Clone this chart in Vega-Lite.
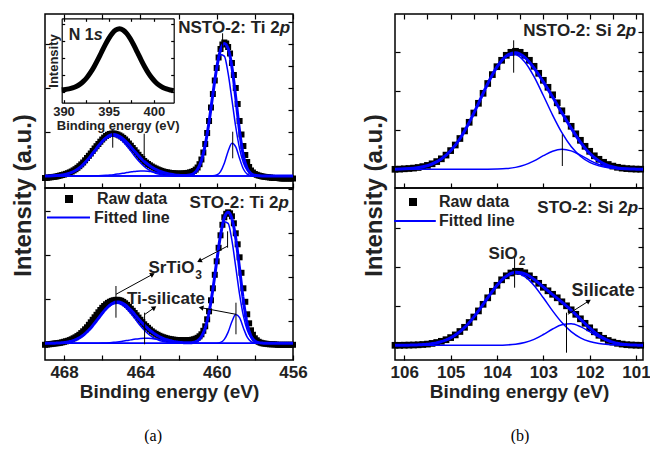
{
"$schema":"https://vega.github.io/schema/vega-lite/v6.json",
"background":"white",
"padding":{"left":10,"top":12,"right":0,"bottom":0},
"config":{
 "view":{"stroke":"black","strokeWidth":1.5},
 "font":"Liberation Sans",
 "axis":{"domain":false,"grid":false,"ticks":true,"tickSize":-5,"tickColor":"black","tickWidth":1.2,"labels":false,"labelFont":"Liberation Sans","labelFontSize":17,"labelFontWeight":"bold","labelColor":"#222222","titleFont":"Liberation Sans","titleFontWeight":"bold","titleColor":"#222222"},
 "text":{"font":"Liberation Sans","fontWeight":"bold","color":"#222222"}
},
"datasets":{
"aTopRaw":[{"x":469.0,"y":-2},{"x":468.9,"y":-1.8},{"x":468.8,"y":-1.5},{"x":468.7,"y":-1.3},{"x":468.6,"y":-1},{"x":468.5,"y":-0.8},{"x":468.4,"y":-0.5},{"x":468.3,"y":0},{"x":468.2,"y":0.5},{"x":468.1,"y":1},{"x":468.0,"y":1.5},{"x":467.9,"y":2.1},{"x":467.8,"y":2.8},{"x":467.7,"y":3.6},{"x":467.6,"y":4.5},{"x":467.5,"y":5.6},{"x":467.4,"y":6.8},{"x":467.3,"y":8.2},{"x":467.2,"y":9.8},{"x":467.1,"y":11.6},{"x":467.0,"y":13.5},{"x":466.9,"y":15.7},{"x":466.8,"y":18},{"x":466.7,"y":20.2},{"x":466.6,"y":22.5},{"x":466.5,"y":25},{"x":466.4,"y":27.5},{"x":466.3,"y":29.8},{"x":466.2,"y":32},{"x":466.1,"y":34.3},{"x":466.0,"y":36.5},{"x":465.9,"y":38.4},{"x":465.8,"y":40},{"x":465.7,"y":41.2},{"x":465.6,"y":42},{"x":465.5,"y":42.4},{"x":465.4,"y":42.5},{"x":465.3,"y":42.1},{"x":465.2,"y":41.5},{"x":465.1,"y":40.6},{"x":465.0,"y":39.5},{"x":464.9,"y":38.1},{"x":464.8,"y":36.5},{"x":464.7,"y":34.6},{"x":464.6,"y":32.5},{"x":464.5,"y":30.3},{"x":464.4,"y":28},{"x":464.3,"y":25.8},{"x":464.2,"y":23.5},{"x":464.1,"y":21.2},{"x":464.0,"y":19},{"x":463.9,"y":17},{"x":463.8,"y":15},{"x":463.7,"y":13.4},{"x":463.6,"y":12},{"x":463.5,"y":10.7},{"x":463.4,"y":9.5},{"x":463.3,"y":8.4},{"x":463.2,"y":7.5},{"x":463.1,"y":6.6},{"x":463.0,"y":5.8},{"x":462.9,"y":5.1},{"x":462.8,"y":4.5},{"x":462.7,"y":4},{"x":462.6,"y":3.6},{"x":462.5,"y":3.3},{"x":462.4,"y":3},{"x":462.3,"y":2.8},{"x":462.2,"y":2.6},{"x":462.1,"y":2.5},{"x":462.0,"y":2.4},{"x":461.9,"y":2.4},{"x":461.8,"y":2.5},{"x":461.7,"y":2.6},{"x":461.6,"y":2.8},{"x":461.5,"y":3.1},{"x":461.4,"y":3.6},{"x":461.3,"y":4.2},{"x":461.2,"y":5},{"x":461.1,"y":6.4},{"x":461.0,"y":8.5},{"x":460.9,"y":11.8},{"x":460.8,"y":16.5},{"x":460.7,"y":23.5},{"x":460.6,"y":32},{"x":460.5,"y":43},{"x":460.4,"y":55},{"x":460.3,"y":68.5},{"x":460.2,"y":82},{"x":460.1,"y":95.5},{"x":460.0,"y":108},{"x":459.9,"y":118.5},{"x":459.8,"y":127},{"x":459.7,"y":131.5},{"x":459.6,"y":133.5},{"x":459.5,"y":132.5},{"x":459.4,"y":129},{"x":459.3,"y":122.5},{"x":459.2,"y":113},{"x":459.1,"y":101},{"x":459.0,"y":88},{"x":458.9,"y":72},{"x":458.8,"y":55},{"x":458.7,"y":41.5},{"x":458.6,"y":30},{"x":458.5,"y":21},{"x":458.4,"y":14},{"x":458.3,"y":9},{"x":458.2,"y":5.5},{"x":458.1,"y":3.5},{"x":458.0,"y":2},{"x":457.9,"y":1.2},{"x":457.8,"y":0.5},{"x":457.7,"y":0},{"x":457.6,"y":-0.5},{"x":457.5,"y":-0.8},{"x":457.4,"y":-1},{"x":457.3,"y":-1.3},{"x":457.2,"y":-1.5},{"x":457.1,"y":-1.8},{"x":457.0,"y":-2},{"x":456.9,"y":-2},{"x":456.8,"y":-2},{"x":456.7,"y":-2.3},{"x":456.6,"y":-2.5},{"x":456.5,"y":-2.5},{"x":456.4,"y":-2.5},{"x":456.3,"y":-2.5},{"x":456.2,"y":-2.5},{"x":456.1,"y":-2.5},{"x":456.0,"y":-2.5}],
"aTopFit":[{"x":469.0,"A":0,"B":0,"C":0.05,"D":0,"E":0.05},{"x":468.8,"A":0,"B":0,"C":0.11,"D":0,"E":0.11},{"x":468.6,"A":0,"B":0,"C":0.22,"D":0,"E":0.22},{"x":468.4,"A":0,"B":0,"C":0.42,"D":0,"E":0.42},{"x":468.2,"A":0,"B":0,"C":0.76,"D":0,"E":0.76},{"x":468.0,"A":0,"B":0,"C":1.32,"D":0,"E":1.32},{"x":467.8,"A":0,"B":0,"C":2.2,"D":0,"E":2.2},{"x":467.6,"A":0,"B":0,"C":3.6,"D":0,"E":3.6},{"x":467.4,"A":0,"B":0,"C":5.5,"D":0,"E":5.5},{"x":467.2,"A":0,"B":0,"C":8.0,"D":0,"E":8.0},{"x":467.0,"A":0,"B":0,"C":11.4,"D":0.02,"E":11.4},{"x":466.8,"A":0,"B":0,"C":15.4,"D":0.04,"E":15.4},{"x":466.6,"A":0,"B":0,"C":20.0,"D":0.08,"E":20.1},{"x":466.4,"A":0,"B":0,"C":24.9,"D":0.14,"E":25.0},{"x":466.2,"A":0,"B":0,"C":29.8,"D":0.24,"E":30.0},{"x":466.0,"A":0,"B":0,"C":34.1,"D":0.4,"E":34.5},{"x":465.8,"A":0,"B":0,"C":37.5,"D":0.63,"E":38.1},{"x":465.6,"A":0,"B":0,"C":39.5,"D":0.95,"E":40.5},{"x":465.4,"A":0,"B":0,"C":40.0,"D":1.38,"E":41.4},{"x":465.2,"A":0,"B":0,"C":38.7,"D":1.9,"E":40.6},{"x":465.0,"A":0,"B":0,"C":36.0,"D":2.5,"E":38.5},{"x":464.8,"A":0,"B":0,"C":32.0,"D":3.1,"E":35.1},{"x":464.6,"A":0,"B":0,"C":27.4,"D":3.8,"E":31.2},{"x":464.4,"A":0,"B":0,"C":22.4,"D":4.3,"E":26.7},{"x":464.2,"A":0,"B":0,"C":17.6,"D":4.75,"E":22.4},{"x":464.0,"A":0,"B":0,"C":13.3,"D":5.0,"E":18.3},{"x":463.8,"A":0,"B":0,"C":9.6,"D":5.0,"E":14.6},{"x":463.6,"A":0,"B":0,"C":6.7,"D":4.75,"E":11.5},{"x":463.4,"A":0,"B":0,"C":4.4,"D":4.3,"E":8.7},{"x":463.2,"A":0,"B":0,"C":2.8,"D":3.8,"E":6.6},{"x":463.0,"A":0,"B":0,"C":1.7,"D":3.1,"E":4.8},{"x":462.8,"A":0,"B":0,"C":1.0,"D":2.5,"E":3.5},{"x":462.6,"A":0,"B":0,"C":0.57,"D":1.9,"E":2.5},{"x":462.4,"A":0,"B":0,"C":0.3,"D":1.38,"E":1.7},{"x":462.2,"A":0,"B":0,"C":0.16,"D":0.95,"E":1.1},{"x":462.0,"A":0.01,"B":0,"C":0.08,"D":0.63,"E":0.7},{"x":461.8,"A":0.06,"B":0,"C":0,"D":0.4,"E":0.5},{"x":461.6,"A":0.23,"B":0,"C":0,"D":0.24,"E":0.5},{"x":461.4,"A":0.82,"B":0,"C":0,"D":0.14,"E":1.0},{"x":461.2,"A":2.5,"B":0,"C":0,"D":0.08,"E":2.6},{"x":461.0,"A":6.7,"B":0,"C":0,"D":0.04,"E":6.7},{"x":460.8,"A":15.5,"B":0,"C":0,"D":0.02,"E":15.5},{"x":460.6,"A":31.1,"B":0,"C":0,"D":0,"E":31.1},{"x":460.4,"A":54.1,"B":0.02,"C":0,"D":0,"E":54.1},{"x":460.2,"A":81.7,"B":0.16,"C":0,"D":0,"E":81.9},{"x":460.0,"A":107.0,"B":1.0,"C":0,"D":0,"E":108.0},{"x":459.8,"A":121.6,"B":4.4,"C":0,"D":0,"E":126.0},{"x":459.6,"A":119.9,"B":12.7,"C":0,"D":0,"E":132.6},{"x":459.4,"A":102.6,"B":24.8,"C":0,"D":0,"E":127.4},{"x":459.2,"A":76.1,"B":32.7,"C":0,"D":0,"E":108.8},{"x":459.0,"A":49.0,"B":29.1,"C":0,"D":0,"E":78.1},{"x":458.8,"A":27.4,"B":17.4,"C":0,"D":0,"E":44.8},{"x":458.6,"A":13.3,"B":7.0,"C":0,"D":0,"E":20.3},{"x":458.4,"A":5.6,"B":1.9,"C":0,"D":0,"E":7.5},{"x":458.2,"A":2.0,"B":0.35,"C":0,"D":0,"E":2.4},{"x":458.0,"A":0.65,"B":0.04,"C":0,"D":0,"E":0.7},{"x":457.8,"A":0.18,"B":0,"C":0,"D":0,"E":0.18},{"x":457.6,"A":0.04,"B":0,"C":0,"D":0,"E":0.04},{"x":457.4,"A":0,"B":0,"C":0,"D":0,"E":0},{"x":457.0,"A":0,"B":0,"C":0,"D":0,"E":0},{"x":456.5,"A":0,"B":0,"C":0,"D":0,"E":0},{"x":456.0,"A":0,"B":0,"C":0,"D":0,"E":0}],
"aBotRaw":[{"x":469.0,"y":-1.5},{"x":468.9,"y":-1.2},{"x":468.8,"y":-1},{"x":468.7,"y":-0.8},{"x":468.6,"y":-0.5},{"x":468.5,"y":-0.2},{"x":468.4,"y":0},{"x":468.3,"y":0.2},{"x":468.2,"y":0.5},{"x":468.1,"y":1},{"x":468.0,"y":1.5},{"x":467.9,"y":2},{"x":467.8,"y":2.5},{"x":467.7,"y":3.2},{"x":467.6,"y":4},{"x":467.5,"y":5},{"x":467.4,"y":6},{"x":467.3,"y":7.2},{"x":467.2,"y":8.5},{"x":467.1,"y":10.2},{"x":467.0,"y":12},{"x":466.9,"y":14},{"x":466.8,"y":16},{"x":466.7,"y":18.5},{"x":466.6,"y":21},{"x":466.5,"y":23.5},{"x":466.4,"y":26},{"x":466.3,"y":28.5},{"x":466.2,"y":31},{"x":466.1,"y":33.3},{"x":466.0,"y":35.5},{"x":465.9,"y":37.3},{"x":465.8,"y":39},{"x":465.7,"y":40.4},{"x":465.6,"y":41.5},{"x":465.5,"y":42.4},{"x":465.4,"y":43},{"x":465.3,"y":43.4},{"x":465.2,"y":43.5},{"x":465.1,"y":43.1},{"x":465.0,"y":42.5},{"x":464.9,"y":41.4},{"x":464.8,"y":40},{"x":464.7,"y":38.4},{"x":464.6,"y":36.5},{"x":464.5,"y":34.6},{"x":464.4,"y":32.5},{"x":464.3,"y":30.3},{"x":464.2,"y":28},{"x":464.1,"y":25.7},{"x":464.0,"y":23.5},{"x":463.9,"y":21.2},{"x":463.8,"y":19},{"x":463.7,"y":17.2},{"x":463.6,"y":15.5},{"x":463.5,"y":13.7},{"x":463.4,"y":12},{"x":463.3,"y":10.7},{"x":463.2,"y":9.5},{"x":463.1,"y":8.5},{"x":463.0,"y":7.5},{"x":462.9,"y":6.7},{"x":462.8,"y":6},{"x":462.7,"y":5.4},{"x":462.6,"y":4.8},{"x":462.5,"y":4.4},{"x":462.4,"y":4},{"x":462.3,"y":3.7},{"x":462.2,"y":3.5},{"x":462.1,"y":3.3},{"x":462.0,"y":3.2},{"x":461.9,"y":3.1},{"x":461.8,"y":3},{"x":461.7,"y":3},{"x":461.6,"y":3},{"x":461.5,"y":3.1},{"x":461.4,"y":3.2},{"x":461.3,"y":3.5},{"x":461.2,"y":4},{"x":461.1,"y":4.6},{"x":461.0,"y":5.5},{"x":460.9,"y":7},{"x":460.8,"y":9},{"x":460.7,"y":12.5},{"x":460.6,"y":17},{"x":460.5,"y":24},{"x":460.4,"y":32},{"x":460.3,"y":43},{"x":460.2,"y":55},{"x":460.1,"y":68.5},{"x":460.0,"y":82},{"x":459.9,"y":95.5},{"x":459.8,"y":108},{"x":459.7,"y":118.5},{"x":459.6,"y":126},{"x":459.5,"y":129.5},{"x":459.4,"y":131},{"x":459.3,"y":130},{"x":459.2,"y":127},{"x":459.1,"y":120},{"x":459.0,"y":110},{"x":458.9,"y":99},{"x":458.8,"y":86},{"x":458.7,"y":70.5},{"x":458.6,"y":55},{"x":458.5,"y":41.5},{"x":458.4,"y":29},{"x":458.3,"y":20},{"x":458.2,"y":13},{"x":458.1,"y":8.5},{"x":458.0,"y":5},{"x":457.9,"y":3},{"x":457.8,"y":1.5},{"x":457.7,"y":0.6},{"x":457.6,"y":0},{"x":457.5,"y":-0.3},{"x":457.4,"y":-0.5},{"x":457.3,"y":-0.8},{"x":457.2,"y":-1},{"x":457.1,"y":-1},{"x":457.0,"y":-1},{"x":456.9,"y":-1.2},{"x":456.8,"y":-1.5},{"x":456.7,"y":-1.5},{"x":456.6,"y":-1.5},{"x":456.5,"y":-1.5},{"x":456.4,"y":-1.5},{"x":456.3,"y":-1.5},{"x":456.2,"y":-1.5},{"x":456.1,"y":-1.5},{"x":456.0,"y":-1.5}],
"aBotFit":[{"x":469.0,"A":0,"B":0,"C":0.03,"D":0,"E":0.03},{"x":468.8,"A":0,"B":0,"C":0.05,"D":0,"E":0.05},{"x":468.6,"A":0,"B":0,"C":0.11,"D":0,"E":0.11},{"x":468.4,"A":0,"B":0,"C":0.22,"D":0,"E":0.22},{"x":468.2,"A":0,"B":0,"C":0.42,"D":0,"E":0.42},{"x":468.0,"A":0,"B":0,"C":0.76,"D":0,"E":0.76},{"x":467.8,"A":0,"B":0,"C":1.32,"D":0,"E":1.32},{"x":467.6,"A":0,"B":0,"C":2.2,"D":0,"E":2.2},{"x":467.4,"A":0,"B":0,"C":3.6,"D":0,"E":3.6},{"x":467.2,"A":0,"B":0,"C":5.5,"D":0,"E":5.5},{"x":467.0,"A":0,"B":0,"C":8.0,"D":0,"E":8.0},{"x":466.8,"A":0,"B":0,"C":11.4,"D":0.02,"E":11.4},{"x":466.6,"A":0,"B":0,"C":15.4,"D":0.04,"E":15.4},{"x":466.4,"A":0,"B":0,"C":20.0,"D":0.08,"E":20.1},{"x":466.2,"A":0,"B":0,"C":24.9,"D":0.14,"E":25.0},{"x":466.0,"A":0,"B":0,"C":29.8,"D":0.24,"E":30.0},{"x":465.8,"A":0,"B":0,"C":34.1,"D":0.4,"E":34.5},{"x":465.6,"A":0,"B":0,"C":37.5,"D":0.63,"E":38.1},{"x":465.4,"A":0,"B":0,"C":39.5,"D":0.95,"E":40.5},{"x":465.2,"A":0,"B":0,"C":40.0,"D":1.38,"E":41.4},{"x":465.0,"A":0,"B":0,"C":38.7,"D":1.9,"E":40.6},{"x":464.8,"A":0,"B":0,"C":36.0,"D":2.5,"E":38.5},{"x":464.6,"A":0,"B":0,"C":32.0,"D":3.1,"E":35.1},{"x":464.4,"A":0,"B":0,"C":27.4,"D":3.8,"E":31.2},{"x":464.2,"A":0,"B":0,"C":22.4,"D":4.3,"E":26.7},{"x":464.0,"A":0,"B":0,"C":17.6,"D":4.75,"E":22.4},{"x":463.8,"A":0,"B":0,"C":13.3,"D":5.0,"E":18.3},{"x":463.6,"A":0,"B":0,"C":9.6,"D":5.0,"E":14.6},{"x":463.4,"A":0,"B":0,"C":6.7,"D":4.75,"E":11.5},{"x":463.2,"A":0,"B":0,"C":4.4,"D":4.3,"E":8.7},{"x":463.0,"A":0,"B":0,"C":2.8,"D":3.8,"E":6.6},{"x":462.8,"A":0,"B":0,"C":1.7,"D":3.1,"E":4.8},{"x":462.6,"A":0,"B":0,"C":1.0,"D":2.5,"E":3.5},{"x":462.4,"A":0,"B":0,"C":0.57,"D":1.9,"E":2.5},{"x":462.2,"A":0,"B":0,"C":0.3,"D":1.38,"E":1.7},{"x":462.0,"A":0,"B":0,"C":0.16,"D":0.95,"E":1.1},{"x":461.8,"A":0.01,"B":0,"C":0.08,"D":0.63,"E":0.7},{"x":461.6,"A":0.06,"B":0,"C":0,"D":0.4,"E":0.5},{"x":461.4,"A":0.23,"B":0,"C":0,"D":0.24,"E":0.5},{"x":461.2,"A":0.82,"B":0,"C":0,"D":0.14,"E":1.0},{"x":461.0,"A":2.5,"B":0,"C":0,"D":0.08,"E":2.6},{"x":460.8,"A":6.7,"B":0,"C":0,"D":0.04,"E":6.7},{"x":460.6,"A":15.5,"B":0,"C":0,"D":0.02,"E":15.5},{"x":460.4,"A":31.1,"B":0,"C":0,"D":0,"E":31.1},{"x":460.2,"A":54.1,"B":0.02,"C":0,"D":0,"E":54.1},{"x":460.0,"A":81.7,"B":0.14,"C":0,"D":0,"E":81.8},{"x":459.8,"A":107.0,"B":0.9,"C":0,"D":0,"E":107.9},{"x":459.6,"A":121.6,"B":3.9,"C":0,"D":0,"E":125.5},{"x":459.4,"A":119.9,"B":11.2,"C":0,"D":0,"E":131.1},{"x":459.2,"A":102.6,"B":21.8,"C":0,"D":0,"E":124.4},{"x":459.0,"A":76.1,"B":28.8,"C":0,"D":0,"E":104.9},{"x":458.8,"A":49.0,"B":25.6,"C":0,"D":0,"E":74.6},{"x":458.6,"A":27.4,"B":15.3,"C":0,"D":0,"E":42.7},{"x":458.4,"A":13.3,"B":6.2,"C":0,"D":0,"E":19.5},{"x":458.2,"A":5.6,"B":1.7,"C":0,"D":0,"E":7.3},{"x":458.0,"A":2.0,"B":0.3,"C":0,"D":0,"E":2.3},{"x":457.8,"A":0.65,"B":0.04,"C":0,"D":0,"E":0.7},{"x":457.6,"A":0.18,"B":0,"C":0,"D":0,"E":0.18},{"x":457.4,"A":0.04,"B":0,"C":0,"D":0,"E":0.04},{"x":457.2,"A":0,"B":0,"C":0,"D":0,"E":0},{"x":456.8,"A":0,"B":0,"C":0,"D":0,"E":0},{"x":456.4,"A":0,"B":0,"C":0,"D":0,"E":0},{"x":456.0,"A":0,"B":0,"C":0,"D":0,"E":0}],
"bTopRaw":[{"x":106.2,"y":0},{"x":106.1,"y":0.2},{"x":106.0,"y":0.5},{"x":105.9,"y":0.8},{"x":105.8,"y":1.2},{"x":105.7,"y":1.8},{"x":105.6,"y":2.7},{"x":105.5,"y":3.9},{"x":105.4,"y":5.5},{"x":105.3,"y":7.7},{"x":105.2,"y":10.5},{"x":105.1,"y":14.2},{"x":105.0,"y":18.7},{"x":104.9,"y":24.3},{"x":104.8,"y":30.8},{"x":104.7,"y":38.4},{"x":104.6,"y":47},{"x":104.5,"y":56.3},{"x":104.4,"y":66},{"x":104.3,"y":76},{"x":104.2,"y":85.8},{"x":104.1,"y":94.7},{"x":104.0,"y":102.6},{"x":103.9,"y":109},{"x":103.8,"y":114},{"x":103.7,"y":117},{"x":103.6,"y":118},{"x":103.5,"y":117},{"x":103.4,"y":114},{"x":103.3,"y":109},{"x":103.2,"y":103},{"x":103.1,"y":96},{"x":103.0,"y":89},{"x":102.9,"y":82},{"x":102.8,"y":74.5},{"x":102.7,"y":66.5},{"x":102.6,"y":58.5},{"x":102.5,"y":50.5},{"x":102.4,"y":43},{"x":102.3,"y":35.5},{"x":102.2,"y":29},{"x":102.1,"y":23},{"x":102.0,"y":18},{"x":101.9,"y":13.5},{"x":101.8,"y":10},{"x":101.7,"y":7},{"x":101.6,"y":4.8},{"x":101.5,"y":3.2},{"x":101.4,"y":2},{"x":101.3,"y":1.2},{"x":101.2,"y":0.7},{"x":101.1,"y":0.4},{"x":101.0,"y":0.2},{"x":100.9,"y":0.1}],
"bTopFit":[{"x":106.2,"M":0.16,"S":0,"E":0.16},{"x":106.0,"M":0.44,"S":0,"E":0.44},{"x":105.8,"M":1.08,"S":0,"E":1.08},{"x":105.6,"M":2.5,"S":0,"E":2.5},{"x":105.4,"M":5.3,"S":0,"E":5.3},{"x":105.2,"M":10.3,"S":0,"E":10.3},{"x":105.0,"M":18.5,"S":0,"E":18.5},{"x":104.8,"M":30.6,"S":0,"E":30.6},{"x":104.6,"M":46.8,"S":0,"E":46.8},{"x":104.4,"M":65.8,"S":0.01,"E":65.8},{"x":104.2,"M":85.5,"S":0.05,"E":85.55},{"x":104.0,"M":102.2,"S":0.21,"E":102.4},{"x":103.8,"M":112.7,"S":0.7,"E":113.4},{"x":103.6,"M":114.6,"S":1.93,"E":116.5},{"x":103.4,"M":107.4,"S":4.45,"E":111.9},{"x":103.2,"M":92.7,"S":8.5,"E":101.2},{"x":103.0,"M":73.8,"S":13.6,"E":87.4},{"x":102.8,"M":54.2,"S":18.1,"E":72.3},{"x":102.6,"M":36.6,"S":20.0,"E":56.6},{"x":102.4,"M":22.8,"S":18.4,"E":41.2},{"x":102.2,"M":13.1,"S":14.1,"E":27.2},{"x":102.0,"M":6.9,"S":9.0,"E":15.9},{"x":101.8,"M":3.4,"S":4.8,"E":8.2},{"x":101.6,"M":1.5,"S":2.1,"E":3.6},{"x":101.4,"M":0.63,"S":0.78,"E":1.4},{"x":101.2,"M":0.24,"S":0.24,"E":0.48},{"x":101.0,"M":0.09,"S":0.06,"E":0.15},{"x":100.8,"M":0.03,"S":0.01,"E":0.04}],
"bBotRaw":[{"x":106.2,"y":0},{"x":106.1,"y":0},{"x":106.0,"y":0.1},{"x":105.9,"y":0.2},{"x":105.8,"y":0.3},{"x":105.7,"y":0.5},{"x":105.6,"y":0.8},{"x":105.5,"y":1.2},{"x":105.4,"y":1.9},{"x":105.3,"y":2.8},{"x":105.2,"y":4},{"x":105.1,"y":5.6},{"x":105.0,"y":7.7},{"x":104.9,"y":10.4},{"x":104.8,"y":13.8},{"x":104.7,"y":18},{"x":104.6,"y":22.8},{"x":104.5,"y":28.3},{"x":104.4,"y":34.4},{"x":104.3,"y":41},{"x":104.2,"y":47.5},{"x":104.1,"y":54},{"x":104.0,"y":60},{"x":103.9,"y":65.5},{"x":103.8,"y":69.5},{"x":103.7,"y":72.3},{"x":103.6,"y":74},{"x":103.5,"y":74},{"x":103.4,"y":72.5},{"x":103.3,"y":69.5},{"x":103.2,"y":66},{"x":103.1,"y":62},{"x":103.0,"y":58},{"x":102.9,"y":54.5},{"x":102.8,"y":51},{"x":102.7,"y":47.5},{"x":102.6,"y":43.5},{"x":102.5,"y":39.5},{"x":102.4,"y":35.5},{"x":102.3,"y":31},{"x":102.2,"y":26.5},{"x":102.1,"y":22},{"x":102.0,"y":17.5},{"x":101.9,"y":13.5},{"x":101.8,"y":10},{"x":101.7,"y":7},{"x":101.6,"y":4.8},{"x":101.5,"y":3.2},{"x":101.4,"y":2},{"x":101.3,"y":1.2},{"x":101.2,"y":0.6},{"x":101.1,"y":0.3},{"x":101.0,"y":0.1},{"x":100.9,"y":0}],
"bBotFit":[{"x":106.2,"M":0.03,"S":0,"E":0.03},{"x":106.0,"M":0.09,"S":0,"E":0.09},{"x":105.8,"M":0.27,"S":0,"E":0.27},{"x":105.6,"M":0.71,"S":0,"E":0.71},{"x":105.4,"M":1.7,"S":0,"E":1.7},{"x":105.2,"M":3.75,"S":0,"E":3.75},{"x":105.0,"M":7.5,"S":0,"E":7.5},{"x":104.8,"M":13.7,"S":0,"E":13.7},{"x":104.6,"M":22.7,"S":0,"E":22.7},{"x":104.4,"M":34.4,"S":0,"E":34.4},{"x":104.2,"M":47.5,"S":0.02,"E":47.5},{"x":104.0,"M":59.9,"S":0.09,"E":60.0},{"x":103.8,"M":68.8,"S":0.33,"E":69.1},{"x":103.6,"M":72.0,"S":1.04,"E":73.0},{"x":103.4,"M":68.8,"S":2.7,"E":71.5},{"x":103.2,"M":59.9,"S":5.95,"E":65.9},{"x":103.0,"M":47.5,"S":10.8,"E":58.3},{"x":102.8,"M":34.4,"S":16.3,"E":50.7},{"x":102.6,"M":22.7,"S":20.5,"E":43.2},{"x":102.4,"M":13.7,"S":21.5,"E":35.2},{"x":102.2,"M":7.5,"S":18.7,"E":26.2},{"x":102.0,"M":3.75,"S":13.6,"E":17.4},{"x":101.8,"M":1.7,"S":8.2,"E":9.9},{"x":101.6,"M":0.71,"S":4.1,"E":4.8},{"x":101.4,"M":0.27,"S":1.7,"E":2.0},{"x":101.2,"M":0.09,"S":0.6,"E":0.7},{"x":101.0,"M":0.03,"S":0.17,"E":0.2},{"x":100.8,"M":0.01,"S":0.04,"E":0.05}],
"inset":[{"x":389.8,"y":98.25},{"x":390.2,"y":98.57},{"x":390.6,"y":99.14},{"x":391.0,"y":100.07},{"x":391.4,"y":101.52},{"x":391.8,"y":103.63},{"x":392.2,"y":106.6},{"x":392.6,"y":110.55},{"x":393.0,"y":115.56},{"x":393.4,"y":121.58},{"x":393.8,"y":128.4},{"x":394.2,"y":135.67},{"x":394.6,"y":142.88},{"x":395.0,"y":149.42},{"x":395.4,"y":154.64},{"x":395.8,"y":158.02},{"x":396.2,"y":159.16},{"x":396.6,"y":157.94},{"x":397.0,"y":154.48},{"x":397.4,"y":149.18},{"x":397.8,"y":142.56},{"x":398.2,"y":135.27},{"x":398.6,"y":127.92},{"x":399.0,"y":121.02},{"x":399.4,"y":114.92},{"x":399.8,"y":109.83},{"x":400.2,"y":105.8},{"x":400.6,"y":102.75},{"x":401.0,"y":100.56},{"x":401.4,"y":99.03},{"x":401.8,"y":98.02},{"x":402.2,"y":97.37}],
"aTopMk":[{"x":465.45,"y":28.3,"y2":45.7},{"x":463.8,"y":15.7,"y2":42.3},{"x":459.69,"y":125,"y2":142.7},{"x":459.16,"y":17.7,"y2":44.3}],
"aBotMk":[{"x":465.28,"y":25.6,"y2":57.3},{"x":463.78,"y":-1,"y2":30.6},{"x":459.43,"y":95.6,"y2":112},{"x":458.99,"y":9,"y2":40.6}],
"bTopMk":[{"x":103.64,"y":96.6,"y2":129},{"x":102.59,"y":3.3,"y2":35}],
"bBotMk":[{"x":103.62,"y":57.6,"y2":89.3},{"x":102.5,"y":-7.4,"y2":32.6}],
"aBotArr":[{"id":1,"x":465.28,"y":49,"x2":463.36,"y2":69},{"id":2,"x":459.42,"y":97.3,"x2":460.91,"y2":82.3},{"id":3,"x":463.76,"y":29,"x2":463.27,"y2":35.6},{"id":4,"x":458.99,"y":29,"x2":460.82,"y2":35.6}],
"bBotArr":[{"id":1,"x":102.47,"y":31,"x2":102.02,"y2":44.3}],
"aTopT":[{"x":456.7,"y":143,"a":"NSTO-2: Ti 2","b":"p"}],
"aBotT":[{"x":456.76,"y":135.6,"a":"STO-2: Ti 2","b":"p"}],
"aBotC":[{"x":461.17,"y":70.3,"a":"SrTiO","b":"3"}],
"aBotP":[{"x":462.66,"y":39,"a":"Ti-silicate"}],
"bTopT":[{"x":101.22,"y":133.3,"a":"NSTO-2: Si 2","b":"p"}],
"bBotT":[{"x":101.18,"y":132.6,"a":"STO-2: Si 2","b":"p"}],
"bBotC":[{"x":103.55,"y":86,"a":"SiO","b":"2"}],
"bBotP":[{"x":101.71,"y":49.3,"a":"Silicate"}],
"insetT":[{"x":393.35,"y":148,"a":"N 1","b":"s"}]
},
"resolve":{"scale":{"color":"independent","strokeDash":"independent"},"legend":{"color":"independent","strokeDash":"independent"}},
"hconcat":[
{"vconcat":[
 {"width":248,"height":174,
  "layer":[
   {"layer":[
     {"layer":[
       {"data":{"name":"aTopRaw"},"mark":{"type":"square","size":36,"color":"black","opacity":1},
        "encoding":{"x":{"field":"x","type":"quantitative","scale":{"domain":[469,456],"nice":false,"zero":false},"axis":{"orient":"bottom","values":[468,466,464,462,460,458,456],"title":null}},
                    "y":{"field":"y","type":"quantitative","scale":{"domain":[-12,162],"nice":false,"zero":false},"axis":{"orient":"left","values":[0,22,44,66,88,110,132,154],"title":null}}}},
       {"data":{"name":"aTopFit"},"transform":[{"fold":["A","B","C","D"],"as":["k","y"]}],"mark":{"type":"line","color":"#0000ff","strokeWidth":1.5,"interpolate":"monotone","clip":true},
        "encoding":{"x":{"field":"x","type":"quantitative"},"y":{"field":"y","type":"quantitative"},"detail":{"field":"k","type":"nominal"}}},
       {"data":{"name":"aTopFit"},"transform":[{"fold":["E"],"as":["k","y"]}],"mark":{"type":"line","color":"#0000ff","strokeWidth":3,"interpolate":"monotone","clip":true},
        "encoding":{"x":{"field":"x","type":"quantitative"},"y":{"field":"y","type":"quantitative"}}},
       {"data":{"name":"aTopMk"},"mark":{"type":"rule","color":"black","strokeWidth":1},
        "encoding":{"x":{"field":"x","type":"quantitative"},"y":{"field":"y","type":"quantitative"},"y2":{"field":"y2"}}},
       {"data":{"name":"aTopT"},"mark":{"type":"text","align":"right","baseline":"alphabetic","fontSize":17},
        "encoding":{"x":{"field":"x","type":"quantitative"},"y":{"field":"y","type":"quantitative"},"text":{"field":"a"}}},
       {"data":{"name":"aTopT"},"mark":{"type":"text","align":"left","baseline":"alphabetic","fontSize":17,"fontStyle":"italic"},
        "encoding":{"x":{"field":"x","type":"quantitative"},"y":{"field":"y","type":"quantitative"},"text":{"field":"b"}}}
     ]},
     {"data":{"name":"aTopRaw"},"mark":{"type":"point","opacity":0},
      "encoding":{"x":{"field":"x","type":"quantitative","axis":{"orient":"top","values":[468,466,464,462,460,458,456],"title":null}},
                  "y":{"field":"y","type":"quantitative","axis":{"orient":"right","values":[0,22,44,66,88,110,132,154],"title":null}}}}
    ],"resolve":{"axis":{"x":"independent","y":"independent"}}},
   {"layer":[
     {"layer":[
       {"data":{"name":"inset"},"mark":{"type":"line","color":"black","strokeWidth":5,"interpolate":"monotone"},
        "encoding":{"x":{"field":"x","type":"quantitative","scale":{"domain":[389.8,402.2],"range":[16.7,128.7],"nice":false,"zero":false},
                         "axis":{"orient":"bottom","offset":-85.3,"values":[390,392.5,395,397.5,400],"domain":true,"domainColor":"black","domainWidth":1.2,"tickSize":-3,"labels":true,"labelExpr":"datum.value % 5 == 0 ? datum.label : ''","labelFontSize":13,"labelPadding":6,"labelFlush":false,"labelOverlap":false,"title":"Binding energy (eV)","titleFontSize":13,"titleY":26.6,"titleBaseline":"alphabetic"}},
                    "y":{"field":"y","type":"quantitative","scale":{"domain":[85.3,169.7],"range":[88.7,4.3],"nice":false,"zero":false},
                         "axis":{"orient":"left","offset":-16.7,"values":[96,113,130,147,164],"domain":true,"domainColor":"black","domainWidth":1.2,"tickSize":-3,"title":"Intensity","titleFontSize":13,"titleX":-8.7,"titleAlign":"center","titleBaseline":"middle","titleAngle":-90}}}},
       {"data":{"name":"insetT"},"mark":{"type":"text","align":"right","baseline":"alphabetic","fontSize":16},
        "encoding":{"x":{"field":"x","type":"quantitative"},"y":{"field":"y","type":"quantitative"},"text":{"field":"a"}}},
       {"data":{"name":"insetT"},"mark":{"type":"text","align":"left","baseline":"alphabetic","fontSize":16,"fontStyle":"italic"},
        "encoding":{"x":{"field":"x","type":"quantitative"},"y":{"field":"y","type":"quantitative"},"text":{"field":"b"}}}
     ]},
     {"data":{"name":"inset"},"mark":{"type":"point","opacity":0},
      "encoding":{"x":{"field":"x","type":"quantitative","axis":{"orient":"top","offset":-4.3,"values":[390,392.5,395,397.5,400],"domain":true,"domainColor":"black","domainWidth":1.2,"tickSize":-3,"title":null}},
                  "y":{"field":"y","type":"quantitative","axis":{"orient":"right","offset":-119.3,"values":[96,113,130,147,164],"domain":true,"domainColor":"black","domainWidth":1.2,"tickSize":-3,"title":null}}}}
    ],"resolve":{"axis":{"x":"independent","y":"independent"}}}
  ],
  "resolve":{"scale":{"x":"independent","y":"independent"}}
 },
 {"width":248,"height":172,
  "layer":[
   {"layer":[
     {"data":{"name":"aBotRaw"},"mark":{"type":"square","size":36,"opacity":1},
      "encoding":{"x":{"field":"x","type":"quantitative","scale":{"domain":[469,456],"nice":false,"zero":false},
                       "axis":{"orient":"bottom","values":[468,466,464,462,460,458,456],"labels":true,"labelExpr":"datum.value % 4 == 0 ? datum.label : ''","labelFlush":false,"labelOverlap":false,"labelPadding":9,"title":"Binding energy (eV)","titleFontSize":19,"titleY":37,"titleBaseline":"alphabetic"}},
                  "y":{"field":"y","type":"quantitative","scale":{"domain":[-16.7,155.3],"nice":false,"zero":false},
                       "axis":{"orient":"left","values":[0,22,44,66,88,110,132,154],"title":"Intensity (a.u.)","titleFontSize":24,"titleX":-22,"titleY":7,"titleAlign":"center","titleBaseline":"middle","titleAngle":-90}},
                  "color":{"datum":"Raw data","scale":{"range":["black"]},"legend":{"orient":"none","legendX":16,"legendY":3,"title":null,"symbolType":"square","symbolSize":64,"symbolFillColor":"black","symbolStrokeWidth":0,"labelFont":"Liberation Sans","labelFontSize":16,"labelFontWeight":"bold","labelColor":"#222222","labelOffset":20}}}},
     {"data":{"name":"aBotFit"},"transform":[{"fold":["A","B","C","D"],"as":["k","y"]}],"mark":{"type":"line","color":"#0000ff","strokeWidth":1.5,"interpolate":"monotone","clip":true},
      "encoding":{"x":{"field":"x","type":"quantitative"},"y":{"field":"y","type":"quantitative"},"detail":{"field":"k","type":"nominal"}}},
     {"data":{"name":"aBotFit"},"transform":[{"fold":["E"],"as":["k","y"]}],"mark":{"type":"line","color":"#0000ff","strokeWidth":3,"interpolate":"monotone","clip":true},
      "encoding":{"x":{"field":"x","type":"quantitative"},"y":{"field":"y","type":"quantitative"},
                  "strokeDash":{"datum":"Fitted line","scale":{"range":[[1,0]]},"legend":{"orient":"none","legendX":1,"legendY":7,"title":null,"symbolType":"stroke","symbolSize":1849,"symbolStrokeColor":"#0000ff","symbolStrokeWidth":2,"labelFont":"Liberation Sans","labelFontSize":16,"labelFontWeight":"bold","labelColor":"#222222","labelOffset":3}}}},
     {"data":{"name":"aBotMk"},"mark":{"type":"rule","color":"black","strokeWidth":1},
      "encoding":{"x":{"field":"x","type":"quantitative"},"y":{"field":"y","type":"quantitative"},"y2":{"field":"y2"}}},
     {"data":{"name":"aBotArr"},"mark":{"type":"rule","color":"black","strokeWidth":1},
      "encoding":{"x":{"field":"x","type":"quantitative"},"y":{"field":"y","type":"quantitative"},"x2":{"field":"x2"},"y2":{"field":"y2"}}},
     {"data":{"name":"aBotArr"},"transform":[{"filter":"datum.id == 1"}],"mark":{"type":"point","shape":"triangle-up","filled":true,"color":"black","size":30,"angle":61,"opacity":1},
      "encoding":{"x":{"field":"x2","type":"quantitative"},"y":{"field":"y2","type":"quantitative"}}},
     {"data":{"name":"aBotArr"},"transform":[{"filter":"datum.id == 2"}],"mark":{"type":"point","shape":"triangle-up","filled":true,"color":"black","size":30,"angle":242,"opacity":1},
      "encoding":{"x":{"field":"x2","type":"quantitative"},"y":{"field":"y2","type":"quantitative"}}},
     {"data":{"name":"aBotArr"},"transform":[{"filter":"datum.id == 3"}],"mark":{"type":"point","shape":"triangle-up","filled":true,"color":"black","size":30,"angle":55,"opacity":1},
      "encoding":{"x":{"field":"x2","type":"quantitative"},"y":{"field":"y2","type":"quantitative"}}},
     {"data":{"name":"aBotArr"},"transform":[{"filter":"datum.id == 4"}],"mark":{"type":"point","shape":"triangle-up","filled":true,"color":"black","size":30,"angle":281,"opacity":1},
      "encoding":{"x":{"field":"x2","type":"quantitative"},"y":{"field":"y2","type":"quantitative"}}},
     {"data":{"name":"aBotT"},"mark":{"type":"text","align":"right","baseline":"alphabetic","fontSize":17},
      "encoding":{"x":{"field":"x","type":"quantitative"},"y":{"field":"y","type":"quantitative"},"text":{"field":"a"}}},
     {"data":{"name":"aBotT"},"mark":{"type":"text","align":"left","baseline":"alphabetic","fontSize":17,"fontStyle":"italic"},
      "encoding":{"x":{"field":"x","type":"quantitative"},"y":{"field":"y","type":"quantitative"},"text":{"field":"b"}}},
     {"data":{"name":"aBotC"},"mark":{"type":"text","align":"right","baseline":"alphabetic","fontSize":17},
      "encoding":{"x":{"field":"x","type":"quantitative"},"y":{"field":"y","type":"quantitative"},"text":{"field":"a"}}},
     {"data":{"name":"aBotC"},"mark":{"type":"text","align":"left","baseline":"alphabetic","fontSize":12,"dx":1,"dy":6},
      "encoding":{"x":{"field":"x","type":"quantitative"},"y":{"field":"y","type":"quantitative"},"text":{"field":"b"}}},
     {"data":{"name":"aBotP"},"mark":{"type":"text","align":"center","baseline":"alphabetic","fontSize":17},
      "encoding":{"x":{"field":"x","type":"quantitative"},"y":{"field":"y","type":"quantitative"},"text":{"field":"a"}}}
    ]},
   {"data":{"name":"aBotRaw"},"mark":{"type":"point","opacity":0},
    "encoding":{"x":{"field":"x","type":"quantitative","axis":null},
                "y":{"field":"y","type":"quantitative","axis":{"orient":"right","values":[0,22,44,66,88,110,132,154],"title":null}}}}
  ],
  "resolve":{"axis":{"x":"independent","y":"independent"}}
 }
],
"spacing":0,"bounds":"flush",
"resolve":{"scale":{"color":"independent","strokeDash":"independent"},"legend":{"color":"independent","strokeDash":"independent"}},
"title":{"text":"(a)","orient":"bottom","anchor":"middle","font":"Liberation Serif","fontSize":16,"fontWeight":"normal","color":"black","offset":26,"dx":-6}
},
{"vconcat":[
 {"width":248,"height":174,
  "layer":[
   {"layer":[
     {"data":{"name":"bTopRaw"},"mark":{"type":"square","size":45,"color":"black","opacity":1},
      "encoding":{"x":{"field":"x","type":"quantitative","scale":{"domain":[106.2,100.85],"nice":false,"zero":false},"axis":{"orient":"bottom","values":[106,105.5,105,104.5,104,103.5,103,102.5,102,101.5,101],"title":null}},
                  "y":{"field":"y","type":"quantitative","scale":{"domain":[-18.7,155.3],"nice":false,"zero":false},"axis":{"orient":"left","values":[0,19.6,39.2,58.8,78.4,98,117.6,137.2],"title":null}}}},
     {"data":{"name":"bTopFit"},"transform":[{"fold":["M","S"],"as":["k","y"]}],"mark":{"type":"line","color":"#0000ff","strokeWidth":1.5,"interpolate":"monotone","clip":true},
      "encoding":{"x":{"field":"x","type":"quantitative"},"y":{"field":"y","type":"quantitative"},"detail":{"field":"k","type":"nominal"}}},
     {"data":{"name":"bTopFit"},"transform":[{"fold":["E"],"as":["k","y"]}],"mark":{"type":"line","color":"#0000ff","strokeWidth":3,"interpolate":"monotone","clip":true},
      "encoding":{"x":{"field":"x","type":"quantitative"},"y":{"field":"y","type":"quantitative"}}},
     {"data":{"name":"bTopMk"},"mark":{"type":"rule","color":"black","strokeWidth":1},
      "encoding":{"x":{"field":"x","type":"quantitative"},"y":{"field":"y","type":"quantitative"},"y2":{"field":"y2"}}},
     {"data":{"name":"bTopT"},"mark":{"type":"text","align":"right","baseline":"alphabetic","fontSize":17},
      "encoding":{"x":{"field":"x","type":"quantitative"},"y":{"field":"y","type":"quantitative"},"text":{"field":"a"}}},
     {"data":{"name":"bTopT"},"mark":{"type":"text","align":"left","baseline":"alphabetic","fontSize":17,"fontStyle":"italic"},
      "encoding":{"x":{"field":"x","type":"quantitative"},"y":{"field":"y","type":"quantitative"},"text":{"field":"b"}}}
    ]},
   {"data":{"name":"bTopRaw"},"mark":{"type":"point","opacity":0},
    "encoding":{"x":{"field":"x","type":"quantitative","axis":{"orient":"top","values":[106,105.5,105,104.5,104,103.5,103,102.5,102,101.5,101],"title":null}},
                "y":{"field":"y","type":"quantitative","axis":{"orient":"right","values":[0,19.6,39.2,58.8,78.4,98,117.6,137.2],"title":null}}}}
  ],
  "resolve":{"axis":{"x":"independent","y":"independent"}}
 },
 {"width":248,"height":172,
  "layer":[
   {"layer":[
     {"data":{"name":"bBotRaw"},"mark":{"type":"square","size":45,"opacity":1},
      "encoding":{"x":{"field":"x","type":"quantitative","scale":{"domain":[106.2,100.85],"nice":false,"zero":false},
                       "axis":{"orient":"bottom","values":[106,105.5,105,104.5,104,103.5,103,102.5,102,101.5,101],"labels":true,"labelExpr":"datum.value % 1 == 0 ? datum.label : ''","labelFlush":false,"labelOverlap":false,"labelPadding":9,"title":"Binding energy (eV)","titleFontSize":19,"titleY":37,"titleBaseline":"alphabetic"}},
                  "y":{"field":"y","type":"quantitative","scale":{"domain":[-14.7,157.3],"nice":false,"zero":false},
                       "axis":{"orient":"left","values":[0,19.6,39.2,58.8,78.4,98,117.6,137.2],"title":"Intensity (a.u.)","titleFontSize":24,"titleX":-21,"titleY":7,"titleAlign":"center","titleBaseline":"middle","titleAngle":-90}},
                  "color":{"datum":"Raw data","scale":{"range":["black"]},"legend":{"orient":"none","legendX":10,"legendY":6,"title":null,"symbolType":"square","symbolSize":64,"symbolFillColor":"black","symbolStrokeWidth":0,"labelFont":"Liberation Sans","labelFontSize":16,"labelFontWeight":"bold","labelColor":"#222222","labelOffset":18}}}},
     {"data":{"name":"bBotFit"},"transform":[{"fold":["M","S"],"as":["k","y"]}],"mark":{"type":"line","color":"#0000ff","strokeWidth":1.5,"interpolate":"monotone","clip":true},
      "encoding":{"x":{"field":"x","type":"quantitative"},"y":{"field":"y","type":"quantitative"},"detail":{"field":"k","type":"nominal"}}},
     {"data":{"name":"bBotFit"},"transform":[{"fold":["E"],"as":["k","y"]}],"mark":{"type":"line","color":"#0000ff","strokeWidth":3,"interpolate":"monotone","clip":true},
      "encoding":{"x":{"field":"x","type":"quantitative"},"y":{"field":"y","type":"quantitative"},
                  "strokeDash":{"datum":"Fitted line","scale":{"range":[[1,0]]},"legend":{"orient":"none","legendX":-2,"legendY":11,"title":null,"symbolType":"stroke","symbolSize":1730,"symbolStrokeColor":"#0000ff","symbolStrokeWidth":2,"labelFont":"Liberation Sans","labelFontSize":16,"labelFontWeight":"bold","labelColor":"#222222","labelOffset":2}}}},
     {"data":{"name":"bBotMk"},"mark":{"type":"rule","color":"black","strokeWidth":1},
      "encoding":{"x":{"field":"x","type":"quantitative"},"y":{"field":"y","type":"quantitative"},"y2":{"field":"y2"}}},
     {"data":{"name":"bBotArr"},"mark":{"type":"rule","color":"black","strokeWidth":1},
      "encoding":{"x":{"field":"x","type":"quantitative"},"y":{"field":"y","type":"quantitative"},"x2":{"field":"x2"},"y2":{"field":"y2"}}},
     {"data":{"name":"bBotArr"},"mark":{"type":"point","shape":"triangle-up","filled":true,"color":"black","size":30,"angle":58,"opacity":1},
      "encoding":{"x":{"field":"x2","type":"quantitative"},"y":{"field":"y2","type":"quantitative"}}},
     {"data":{"name":"bBotT"},"mark":{"type":"text","align":"right","baseline":"alphabetic","fontSize":17},
      "encoding":{"x":{"field":"x","type":"quantitative"},"y":{"field":"y","type":"quantitative"},"text":{"field":"a"}}},
     {"data":{"name":"bBotT"},"mark":{"type":"text","align":"left","baseline":"alphabetic","fontSize":17,"fontStyle":"italic"},
      "encoding":{"x":{"field":"x","type":"quantitative"},"y":{"field":"y","type":"quantitative"},"text":{"field":"b"}}},
     {"data":{"name":"bBotC"},"mark":{"type":"text","align":"right","baseline":"alphabetic","fontSize":17},
      "encoding":{"x":{"field":"x","type":"quantitative"},"y":{"field":"y","type":"quantitative"},"text":{"field":"a"}}},
     {"data":{"name":"bBotC"},"mark":{"type":"text","align":"left","baseline":"alphabetic","fontSize":12,"dx":1,"dy":6},
      "encoding":{"x":{"field":"x","type":"quantitative"},"y":{"field":"y","type":"quantitative"},"text":{"field":"b"}}},
     {"data":{"name":"bBotP"},"mark":{"type":"text","align":"center","baseline":"alphabetic","fontSize":18},
      "encoding":{"x":{"field":"x","type":"quantitative"},"y":{"field":"y","type":"quantitative"},"text":{"field":"a"}}}
    ]},
   {"data":{"name":"bBotRaw"},"mark":{"type":"point","opacity":0},
    "encoding":{"x":{"field":"x","type":"quantitative","axis":null},
                "y":{"field":"y","type":"quantitative","axis":{"orient":"right","values":[0,19.6,39.2,58.8,78.4,98,117.6,137.2],"title":null}}}}
  ],
  "resolve":{"axis":{"x":"independent","y":"independent"}}
 }
],
"spacing":0,"bounds":"flush",
"resolve":{"scale":{"color":"independent","strokeDash":"independent"},"legend":{"color":"independent","strokeDash":"independent"}},
"title":{"text":"(b)","orient":"bottom","anchor":"middle","font":"Liberation Serif","fontSize":16,"fontWeight":"normal","color":"black","offset":26,"dx":14}
}
],
"spacing":53
}
